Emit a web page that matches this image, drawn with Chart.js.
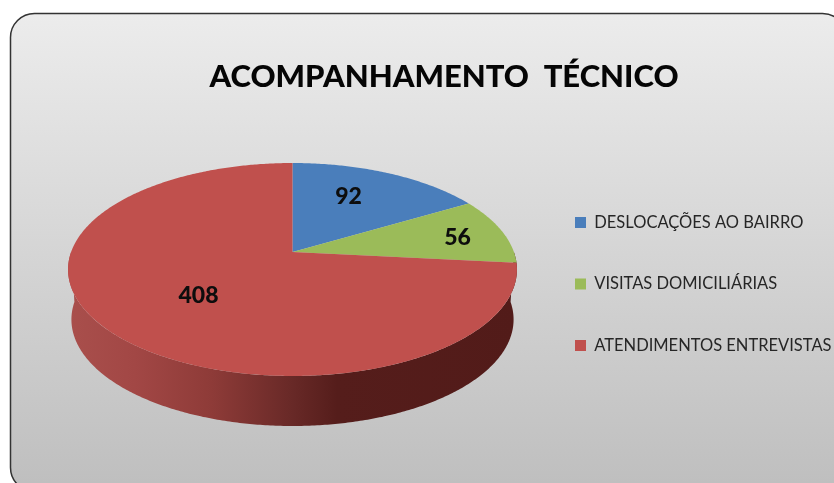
<!DOCTYPE html>
<html><head><meta charset="utf-8">
<style>html,body{margin:0;padding:0;background:#fff;overflow:hidden}canvas{display:block;filter:blur(0.45px)}</style>
<script src="https://cdn.jsdelivr.net/npm/chart.js@4"></script>
</head><body><div style="width:834px;height:483px"><canvas id="c" width="834" height="483"></canvas></div>
<script>
const chartTitle = 'ACOMPANHAMENTO  TÉCNICO';
const categories = ['DESLOCAÇÕES AO BAIRRO', 'VISITAS DOMICILIÁRIAS', 'ATENDIMENTOS ENTREVISTAS'];
const values = [92, 56, 408];
const sliceColors = ['#4a7ebb', '#9bbb59', '#c0504d'];
const labelFont = '900 23px Lato';
const labelOffsets = [[56, -55], [165, -14], [-94, 44]];

const view = { cx: 292.5, cy: 252, rx: 221.4, ry: 103.6, tilt: 0.1643, depth: 50, wallScale: 0.985 };
function project(a, scale, dy) {
  const x = Math.cos(a), y = Math.sin(a), w = 1 - view.tilt * y;
  return [view.cx + scale * view.rx * x / w, view.cy + (dy || 0) + view.ry * y / w];
}
function trace(ctx, a0, a1, scale, dy, first) {
  const n = Math.max(2, Math.ceil(Math.abs(a1 - a0) / 0.01));
  for (let i = 0; i <= n; i++) {
    const p = project(a0 + (a1 - a0) * i / n, scale, dy);
    if (i === 0 && first) ctx.moveTo(p[0], p[1]); else ctx.lineTo(p[0], p[1]);
  }
}
const scenePlugin = {
  id: 'scene',
  beforeDraw(chart) {
    const ctx = chart.ctx;
    ctx.save();
    ctx.fillStyle = '#fff';
    ctx.fillRect(0, 0, chart.width, chart.height);
    const g = ctx.createLinearGradient(0, 13, 0, 483);
    g.addColorStop(0, '#ececec');
    g.addColorStop(1, '#bfbfbf');
    ctx.beginPath();
    ctx.roundRect(10.5, 13.5, 836, 478, 24);
    ctx.fillStyle = g;
    ctx.fill();
    ctx.lineWidth = 1.5;
    ctx.strokeStyle = '#333333';
    ctx.stroke();
    ctx.restore();
  },
  afterLayout(chart) {
    const l = chart.legend;
    const dx = 530 - l.left, dy = 284 - (l.top + l.bottom) / 2;
    l.left += dx; l.right += dx; l.top += dy; l.bottom += dy;
  },
  beforeDatasetsDraw(chart) {
    const ctx = chart.ctx, arcs = chart.getDatasetMeta(0).data;
    ctx.save();
    // side wall of the disc
    const wall = ctx.createLinearGradient(68, 0, 517, 0);
    wall.addColorStop(0, '#a94f4c');
    wall.addColorStop(0.15, '#a24745');
    wall.addColorStop(0.32, '#8e3b38');
    wall.addColorStop(0.5, '#682927');
    wall.addColorStop(0.6, '#551d1b');
    wall.addColorStop(1, '#521b19');
    ctx.beginPath();
    trace(ctx, 0, Math.PI, 1, 0, true);
    trace(ctx, Math.PI, 0, view.wallScale, view.depth, false);
    ctx.closePath();
    ctx.fillStyle = wall;
    ctx.fill();
    // top face: one wedge per library arc
    arcs.forEach((arc) => {
      const p = arc.getProps(['startAngle', 'endAngle'], true);
      ctx.beginPath();
      ctx.moveTo(view.cx, view.cy);
      trace(ctx, p.startAngle, p.endAngle, 1, 0, false);
      ctx.closePath();
      ctx.fillStyle = arc.options.backgroundColor;
      ctx.fill();
    });
    // value labels
    ctx.font = labelFont;
    ctx.fillStyle = '#0d0d0d';
    ctx.textAlign = 'center';
    ctx.textBaseline = 'middle';
    values.forEach((v, i) => {
      ctx.fillText(String(v), view.cx + labelOffsets[i][0], view.cy + labelOffsets[i][1]);
    });
    ctx.restore();
    return false;
  }
};
new Chart(document.getElementById('c'), {
  type: 'pie',
  data: { labels: categories, datasets: [{ data: values, backgroundColor: sliceColors, borderWidth: 0 }] },
  plugins: [scenePlugin],
  options: {
    responsive: false,
    animation: false,
    layout: { padding: { left: 54, top: 0 } },
    plugins: {
      tooltip: { enabled: false },
      title: {
        display: true, text: chartTitle, color: '#050505',
        font: { family: 'Lato', size: 31, weight: '900' },
        padding: { top: 58, bottom: 10 }
      },
      legend: {
        position: 'right',
        labels: {
          boxWidth: 11, boxHeight: 11, padding: 45, color: '#262626',
          font: { family: 'Lato', size: 16.5 }
        }
      }
    }
  }
});
</script></body></html>
